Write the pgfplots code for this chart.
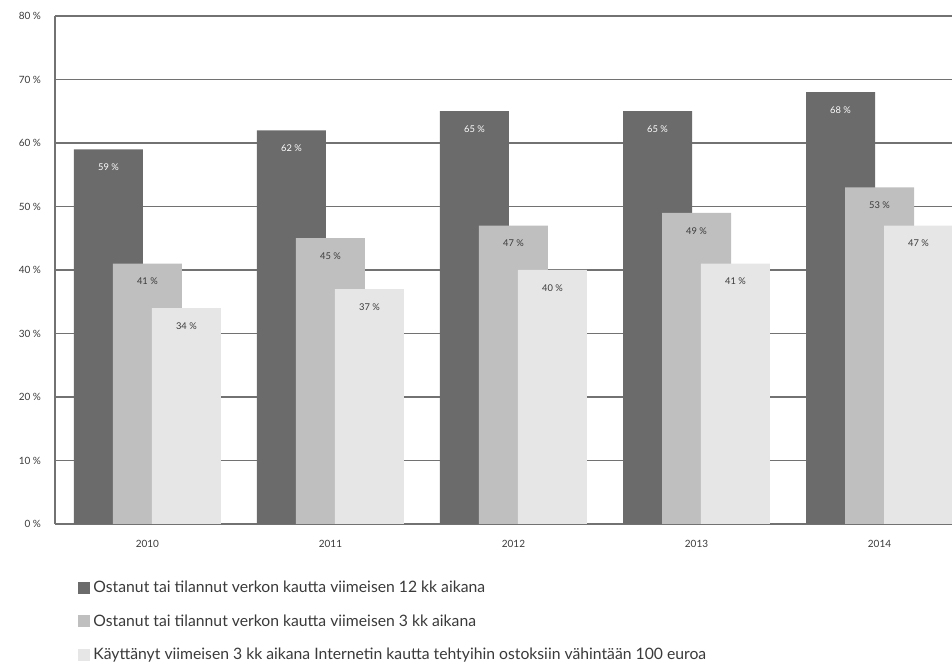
\documentclass[border=0pt]{standalone}
\usepackage{fontspec}
\setmainfont{Lato}
\usepackage{pgfplots}
\pgfplotsset{compat=1.18}
\definecolor{cDark}{HTML}{6B6B6B}
\definecolor{cMid}{HTML}{BFBFBF}
\definecolor{cLight}{HTML}{E6E6E6}
\definecolor{gridc}{HTML}{727272}
\definecolor{txt}{HTML}{3A3A3A}
\begin{document}
\begin{tikzpicture}
\path[use as bounding box] (0,0) rectangle (714pt,497.25pt);
\begin{axis}[
  at={(41.25pt,104.25pt)}, anchor=south west,
  scale only axis, width=672.75pt, height=381pt,
  ybar, bar width=0.377,
  xmin=-0.505, xmax=4.396, ymin=0, ymax=80,
  xtick={0,1,2,3,4}, xticklabels={2010,2011,2012,2013,2014},
  ytick={0,10,...,80},
  /pgf/number format/assume math mode=true,
  yticklabel={\pgfmathprintnumber{\tick}~\%},
  ymajorgrids, grid style={gridc, line width=0.9pt},
  axis x line*=box, axis y line*=left,
  axis line style={gridc, line width=0.9pt},
  major tick length=0pt,
  tick label style={font=\fontsize{7.5}{8}\selectfont, text=txt},
  xticklabel style={yshift=-9pt},
  yticklabel style={xshift=-7pt},
  nodes near coords={\pgfmathprintnumber{\pgfplotspointmeta}~\%},
  every node near coord/.append style={anchor=center, yshift=-13.5pt, font=\fontsize{7}{8}\selectfont, text=txt},
  legend style={at={(0.021,-0.104)}, anchor=north west, draw=none, fill=none,
    row sep=13pt, nodes={font=\fontsize{11.8}{13}\selectfont, text=txt, inner ysep=1pt, inner xsep=2.5pt}},
  legend cell align=left,
  legend image code/.code={\fill[#1] (0pt,-4.5pt) rectangle (9pt,4.5pt);},
]
\addplot[fill=cDark, draw=none, bar shift=0pt, every node near coord/.append style={text=white}]
  coordinates {(-0.213,59) (0.787,62) (1.787,65) (2.787,65) (3.787,68)};
\addplot[fill=cMid, draw=none, bar shift=0pt]
  coordinates {(0,41) (1,45) (2,47) (3,49) (4,53)};
\addplot[fill=cLight, draw=none, bar shift=0pt]
  coordinates {(0.213,34) (1.213,37) (2.213,40) (3.213,41) (4.213,47)};
\legend{Ostanut tai tilannut verkon kautta viimeisen 12 kk aikana,
Ostanut tai tilannut verkon kautta viimeisen 3 kk aikana,
Käyttänyt viimeisen 3 kk aikana Internetin kautta tehtyihin ostoksiin vähintään 100 euroa}
\end{axis}
\end{tikzpicture}
\end{document}
